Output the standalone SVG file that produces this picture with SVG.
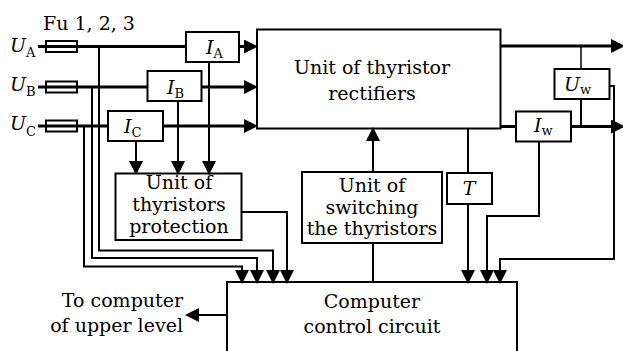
<svg xmlns="http://www.w3.org/2000/svg" width="623" height="351" viewBox="0 0 623 351">
<style>
.box{fill:none;stroke:#000;stroke-width:2}
.ln{fill:none;stroke:#000;stroke-width:2}
.th{fill:none;stroke:#000;stroke-width:3}
.tn{fill:none;stroke:#000;stroke-width:1.5}
.t{font-family:"DejaVu Serif","Liberation Serif",serif;font-size:19px;fill:#000}
.c{text-anchor:middle}
.r{text-anchor:end}
.i{font-style:italic}
.s{font-size:13px;font-style:normal}
</style>
<defs>
<marker id="ah" markerUnits="userSpaceOnUse" markerWidth="14" markerHeight="14" refX="0" refY="6" orient="auto" viewBox="0 0 12 12">
<path d="M0,0 L12,6 L0,12 z" fill="#000"/>
</marker>
</defs>
<rect width="623" height="351" fill="#fff"/>
<text class="t" x="43" y="30" font-size="18">Fu 1, 2, 3</text>
<g id="UA"><text class="t i" x="10" y="52">U<tspan class="s" dy="5">A</tspan></text></g>
<g id="UB"><text class="t i" x="10" y="91">U<tspan class="s" dy="5">B</tspan></text></g>
<g id="UC"><text class="t i" x="10" y="130">U<tspan class="s" dy="6">C</tspan></text></g>
<g id="fuses">
<rect class="box" x="46" y="41" width="31" height="11"/>
<rect class="box" x="46" y="81.5" width="31" height="11"/>
<rect class="box" x="46" y="120.5" width="31" height="11"/>
</g>
<g id="IA"><rect class="box" x="186" y="32" width="53" height="30"/><text class="t i" x="206" y="54">I<tspan class="s" dy="4">A</tspan></text></g>
<g id="IB"><rect class="box" x="147.5" y="71" width="54" height="30"/><text class="t i" x="167" y="94">I<tspan class="s" dy="4">B</tspan></text></g>
<g id="IC"><rect class="box" x="108" y="111" width="55" height="30"/><text class="t i" x="124" y="133">I<tspan class="s" dy="4">C</tspan></text></g>
<g id="rectifiers"><rect class="box" x="257" y="29.5" width="243.5" height="99"/>
<text class="t c" x="372" y="74">Unit of thyristor</text><text class="t c" x="372" y="100">rectifiers</text></g>
<g id="Uw"><rect class="box" x="554.5" y="69" width="55" height="30"/><text class="t i" x="564" y="91">U<tspan class="s" dy="3">w</tspan></text></g>
<g id="Iw"><rect class="box" x="516" y="111.5" width="55" height="30"/><text class="t i" x="534" y="132">I<tspan class="s" dy="3">w</tspan></text></g>
<g id="protection"><rect class="box" x="115.5" y="173.5" width="126" height="66.5"/>
<text class="t c" x="179" y="189">Unit of</text><text class="t c" x="179" y="211">thyristors</text><text class="t c" x="179" y="233">protection</text></g>
<g id="switching"><rect class="box" x="302" y="172" width="140" height="71"/>
<text class="t c" x="372" y="192">Unit of</text><text class="t c" x="372" y="213.5">switching</text><text class="t c" x="372" y="235">the thyristors</text></g>
<g id="T"><rect class="box" x="447" y="173" width="45" height="31"/><text class="t i c" x="469" y="195">T</text></g>
<g id="computer"><rect class="box" x="227" y="282" width="290" height="90"/>
<text class="t c" x="372" y="308">Computer</text><text class="t c" x="372" y="333">control circuit</text></g>
<g id="upper"><text class="t r" x="183" y="307">To computer</text><text class="t r" x="183" y="332">of upper level</text></g>
<g id="connectors">
<path class="th" d="M38,46.5 H186"/>
<path class="th" d="M239,46.5 H244" marker-end="url(#ah)"/>
<path class="th" d="M38,87 H147.5"/>
<path class="th" d="M201.5,87 H244" marker-end="url(#ah)"/>
<path class="th" d="M38,126 H108"/>
<path class="th" d="M163,126 H244" marker-end="url(#ah)"/>
<path class="th" d="M500,46 H611" marker-end="url(#ah)"/>
<path class="th" d="M500,126.5 H516"/>
<path class="th" d="M571,126.5 H611" marker-end="url(#ah)"/>
<path class="tn" d="M581,46 V69"/>
<path class="ln" d="M581,99 V126"/>
<path class="ln" d="M609.5,86 H614 V259 H500 V270" marker-end="url(#ah)"/>
<path class="ln" d="M539,141.5 V216 H487 V270" marker-end="url(#ah)"/>
<path class="ln" d="M468,128.5 V173"/>
<path class="ln" d="M468,204 V270" marker-end="url(#ah)"/>
<path class="ln" d="M373,172 V141" marker-end="url(#ah)"/>
<path class="ln" d="M373,243 V282"/>
<path class="ln" d="M241.5,212 H287 V270" marker-end="url(#ah)"/>
<path class="ln" d="M99,46 V250.5 H273 V270" marker-end="url(#ah)"/>
<path class="ln" d="M92,87 V258 H257 V270" marker-end="url(#ah)"/>
<path class="ln" d="M84,126 V266.5 H242 V270" marker-end="url(#ah)"/>
<path class="ln" d="M136,141 V161" marker-end="url(#ah)"/>
<path class="ln" d="M178,101 V161" marker-end="url(#ah)"/>
<path class="ln" d="M209,62 V161" marker-end="url(#ah)"/>
<path class="ln" d="M227,315 H199" marker-end="url(#ah)"/>
</g>
</svg>
